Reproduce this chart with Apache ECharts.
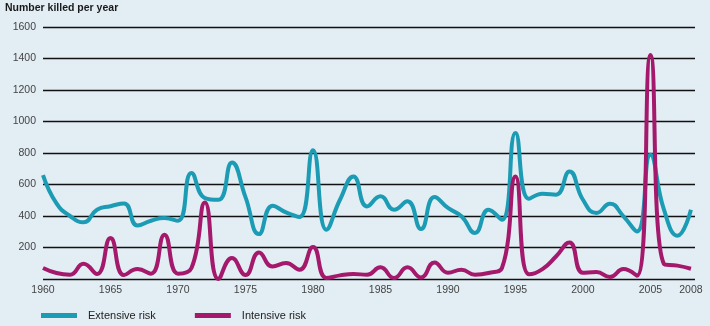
<!DOCTYPE html>
<html><head><meta charset="utf-8">
<script src="https://cdn.jsdelivr.net/npm/echarts@6/dist/echarts.min.js"></script>
<style>html,body{margin:0;padding:0;background:#e2edf4;}#c{width:710px;height:326px;}</style>
</head><body><div id="c"></div>
<script>
const years = [];
for (let y = 1960; y <= 2008; y++) years.push(y);
const extensive = [660,480,400,360,440,462,480,340,370,387,370,673,514,503,740,520,285,465,423,394,817,313,503,651,461,525,440,493,317,520,451,398,292,440,376,927,510,542,535,683,503,419,478,398,302,789,440,275,440];
const intensive = [70,38,27,97,32,260,25,63,34,281,34,70,486,0,133,25,169,80,101,59,203,6,23,32,27,74,6,74,10,105,40,59,27,38,70,651,30,63,143,232,40,44,13,63,21,1422,95,85,65];
const xTicks = [1960,1965,1970,1975,1980,1985,1990,1995,2000,2005,2008];
const yTitle = 'Number killed per year';

const toPairs = arr => years.map((y, i) => [y, arr[i]]);
const chart = echarts.init(document.getElementById('c'), null, {renderer: 'canvas'});
const font = 'Liberation Sans, Arial, Helvetica, sans-serif';
chart.setOption({
  backgroundColor: '#e2edf4',
  animation: false,
  title: {text: yTitle, left: 0, top: -2, textStyle: {fontFamily: font, fontSize: 10.5, fontWeight: 'bold', color: '#1a1a1a'}},
  grid: {left: 43, right: 15, top: 27, bottom: 47, containLabel: false},
  legend: {
    left: 36, top: 305, icon: 'rect', itemWidth: 36, itemHeight: 5, itemGap: 39,
    textStyle: {fontFamily: font, fontSize: 11, color: '#222', padding: [0,0,0,6]},
    data: ['Extensive risk', 'Intensive risk']
  },
  xAxis: {
    type: 'value', min: 1960, max: 2008.3,
    axisLine: {show: false}, axisTick: {show: false}, splitLine: {show: false},
    axisLabel: {customValues: xTicks, fontFamily: font, fontSize: 10.5, color: '#444', margin: 6, formatter: v => String(v)}
  },
  yAxis: {
    type: 'value', min: 0, max: 1600, interval: 200,
    axisLine: {show: false}, axisTick: {show: false},
    splitLine: {show: true, lineStyle: {color: '#111', width: 1.3}},
    axisLabel: {fontFamily: font, fontSize: 10.5, color: '#444', margin: 7, formatter: v => v === 0 ? '' : String(v)}
  },
  series: [
    {name: 'Extensive risk', type: 'line', smooth: 0.5, showSymbol: false, data: toPairs(extensive),
     lineStyle: {color: '#1c9bb4', width: 4}, itemStyle: {color: '#1c9bb4'}, z: 3},
    {name: 'Intensive risk', type: 'line', smooth: 0.5, showSymbol: false, data: toPairs(intensive),
     lineStyle: {color: '#a4196b', width: 4}, itemStyle: {color: '#a4196b'}, z: 4}
  ]
});
</script></body></html>
